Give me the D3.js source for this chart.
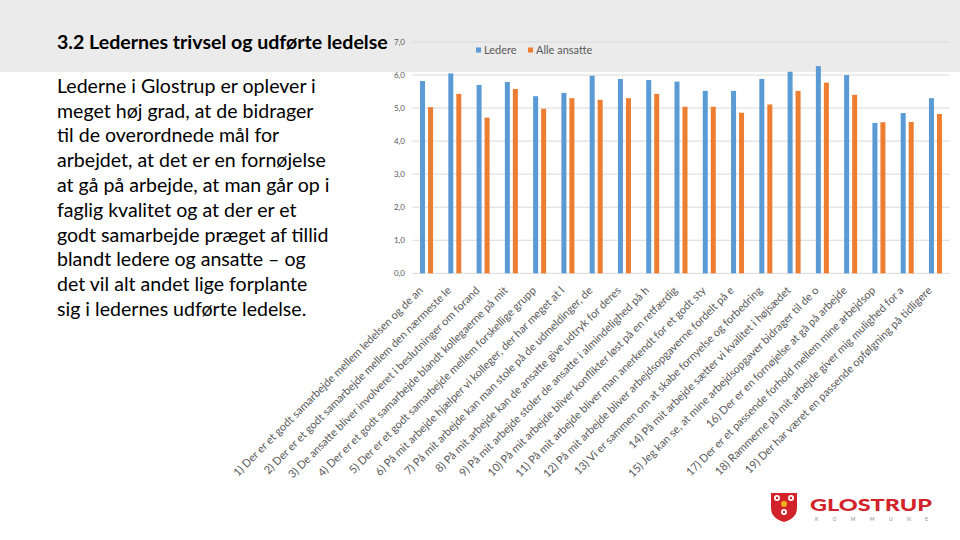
<!DOCTYPE html>
<html>
<head>
<meta charset="utf-8">
<script src="https://cdn.jsdelivr.net/npm/d3@7"></script>
<style>
  html, body { margin: 0; padding: 0; background: #ffffff; }
  svg { display: block; }
</style>
</head>
<body>
<svg id="chart" width="960" height="540"></svg>
<script>
const categories = [
  "1) Der er et godt samarbejde mellem ledelsen og de an",
  "2) Der er et godt samarbejde mellem den nærmeste le",
  "3) De ansatte bliver involveret i beslutninger om forand",
  "4) Der er et godt samarbejde blandt kollegaerne på mit",
  "5) Der er et godt samarbejde mellem forskellige grupp",
  "6) På mit arbejde hjælper vi kolleger, der har meget at l",
  "7) På mit arbejde kan man stole på de udmeldinger, de",
  "8) På mit arbejde kan de ansatte give udtryk for deres",
  "9) På mit arbejde stoler de ansatte i almindelighed på h",
  "10) På mit arbejde bliver konflikter løst på en retfærdig",
  "11) På mit arbejde bliver man anerkendt for et godt sty",
  "12) På mit arbejde bliver arbejdsopgaverne fordelt på e",
  "13) Vi er sammen om at skabe fornyelse og forbedring",
  "14) På mit arbejde sætter vi kvalitet i højsædet",
  "15) Jeg kan se, at mine arbejdsopgaver bidrager til de o",
  "16) Der er en fornøjelse at gå på arbejde",
  "17) Der er et passende forhold mellem mine arbejdsop",
  "18) Rammerne på mit arbejde giver mig mulighed for a",
  "19) Der har været en passende opfølgning på tidligere"
];
const seriesNames = ["Ledere", "Alle ansatte"];
const ledere =      [5.82, 6.05, 5.70, 5.79, 5.36, 5.46, 5.98, 5.88, 5.85, 5.80, 5.52, 5.52, 5.88, 6.10, 6.27, 6.00, 4.55, 4.85, 5.30];
const alleAnsatte = [5.03, 5.43, 4.71, 5.58, 4.98, 5.30, 5.25, 5.30, 5.43, 5.04, 5.04, 4.86, 5.11, 5.52, 5.77, 5.40, 4.57, 4.58, 4.82];
const yTicks = [0, 1, 2, 3, 4, 5, 6, 7];

const titleText = "3.2 Ledernes trivsel og udførte ledelse";
const bodyLines = [
  "Lederne i Glostrup er oplever i",
  "meget høj grad, at de bidrager",
  "til de overordnede mål for",
  "arbejdet, at det er en fornøjelse",
  "at gå på arbejde, at man går op i",
  "faglig kvalitet og at der er et",
  "godt samarbejde præget af tillid",
  "blandt ledere og ansatte – og",
  "det vil alt andet lige forplante",
  "sig i ledernes udførte ledelse."
];

const colors = ["#5b9bd5", "#ed7d31"];
const textGray = "#595959";
const FONT = "Lato, 'Open Sans', sans-serif";

const svg = d3.select("#chart");

// header band
svg.append("rect").attr("x", 0).attr("y", 0).attr("width", 960).attr("height", 72).attr("fill", "#ebebeb");

// title
const title = svg.append("text").attr("x", 57).attr("y", 48.5)
  .attr("font-family", FONT).attr("font-weight", 700).attr("font-size", 20)
  .attr("fill", "#000").text(titleText);
{
  const w = title.node().getComputedTextLength();
  title.attr("font-size", 20 * 331 / w);
}

// body text
const body = svg.append("g").attr("font-family", FONT).attr("fill", "#000");
const bodyTexts = body.selectAll("text").data(bodyLines).join("text")
  .attr("x", 57).attr("y", (d, i) => 92.7 + i * 24.8)
  .attr("font-size", 20).text(d => d);
{
  const w = bodyTexts.nodes()[3].getComputedTextLength();
  bodyTexts.attr("font-size", 20 * 269 / w);
}

// scales
const x0 = d3.scaleBand().domain(categories).range([412.4, 949.6]).paddingInner(0.54).paddingOuter(0.27);
const x1 = d3.scaleBand().domain(seriesNames).range([0, x0.bandwidth()]).paddingInner(0.375);
const y = d3.scaleLinear().domain([0, 7]).range([273.3, 42]);

const locale = d3.formatLocale({decimal: ",", thousands: ".", grouping: [3], currency: ["", " kr"]});
const fmt = locale.format(".1f");

// gridlines
svg.append("g").selectAll("line").data(yTicks).join("line")
  .attr("x1", 412.4).attr("x2", 949.6)
  .attr("y1", d => y(d)).attr("y2", d => y(d))
  .attr("stroke", "#d9d9d9").attr("stroke-width", 1);

// y axis labels via d3 axis
const yAxis = svg.append("g").attr("transform", "translate(405,0)")
  .call(d3.axisLeft(y).tickValues(yTicks).tickFormat(fmt).tickSize(0).tickPadding(0));
yAxis.select(".domain").remove();
yAxis.selectAll("text").attr("font-family", FONT).attr("font-size", 8).attr("fill", textGray);

// bars
const seriesData = [ledere, alleAnsatte];
const groups = svg.append("g").selectAll("g").data(categories).join("g")
  .attr("transform", d => `translate(${x0(d)},0)`);
groups.selectAll("rect").data((d, i) => seriesNames.map((s, j) => ({s, v: seriesData[j][i], c: colors[j]})))
  .join("rect")
  .attr("x", d => x1(d.s)).attr("width", x1.bandwidth())
  .attr("y", d => y(d.v)).attr("height", d => y(0) - y(d.v))
  .attr("fill", d => d.c);

// category labels
const labels = svg.append("g").selectAll("text").data(categories).join("text")
  .attr("font-family", FONT).attr("font-size", 10).attr("fill", textGray)
  .attr("text-anchor", "end").attr("dominant-baseline", "central")
  .attr("transform", d => `translate(${x0(d) + x0.bandwidth() / 2 - 6},288) rotate(-45)`)
  .text(d => d);
{
  const w = labels.nodes()[0].getComputedTextLength();
  labels.attr("font-size", 10 * 263 / w);
}

// legend
const legend = svg.append("g").attr("font-family", FONT).attr("font-size", 11).attr("fill", textGray);
const legendX = [476, 528];
seriesNames.forEach((s, i) => {
  legend.append("rect").attr("x", legendX[i]).attr("y", 47.5).attr("width", 5).attr("height", 5).attr("fill", colors[i]);
  legend.append("text").attr("x", legendX[i] + 8).attr("y", 54).text(s);
});

// logo
const logo = svg.append("g");
logo.append("path")
  .attr("d", "M771,493 L797,493 L797,508 Q797,518 784,522 Q771,518 771,508 Z")
  .attr("fill", "#d2232a");
[[777, 498], [791, 498], [784, 512]].forEach(([cx, cy]) => {
  logo.append("circle").attr("cx", cx).attr("cy", cy).attr("r", 3).attr("fill", "#fff");
  logo.append("circle").attr("cx", cx).attr("cy", cy).attr("r", 1.2).attr("fill", "#d2232a");
});
logo.append("circle").attr("cx", 784).attr("cy", 504).attr("r", 3).attr("fill", "#f2b31b");
logo.append("text").attr("x", 810).attr("y", 510.5)
  .attr("font-family", FONT).attr("font-weight", 900).attr("font-size", 17)
  .attr("fill", "#d2232a").attr("textLength", 122).attr("lengthAdjust", "spacingAndGlyphs")
  .text("GLOSTRUP");
logo.append("text").attr("x", 815).attr("y", 521)
  .attr("font-family", FONT).attr("font-size", 5)
  .attr("fill", "#8a8a8a").attr("textLength", 113)
  .text("KOMMUNE");
</script>
</body>
</html>
